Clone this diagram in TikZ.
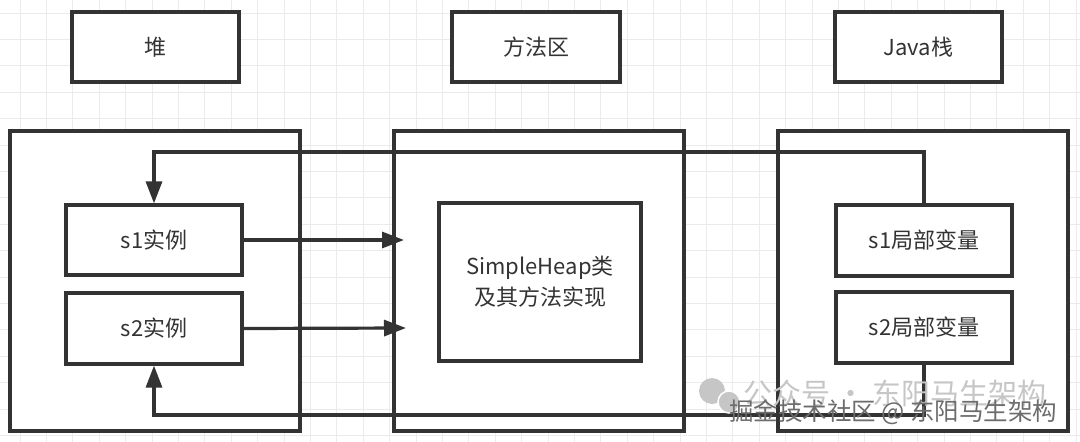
\documentclass[tikz,border=0pt]{standalone}
\usepackage{fontspec}
\setmainfont{Noto Sans CJK SC}
\usetikzlibrary{arrows.meta}
\definecolor{ink}{HTML}{333333}
\definecolor{gridc}{HTML}{EBEBEB}
\begin{document}
\begin{tikzpicture}[x=1pt,y=-1pt,
  box/.style={draw=ink,line width=3.2pt,fill=white,inner sep=0pt,
    font=\fontsize{22}{31}\selectfont,text=ink,align=center},
  conn/.style={draw=ink,line width=3.2pt},
  arr/.style={conn,-{Triangle[length=22pt,width=16pt]}}]
\fill[white] (0,0) rectangle (1080,442);
\useasboundingbox (0,0) rectangle (1080,442);
% grid
\foreach \i in {0,...,40} {\draw[gridc,line width=1pt] (20+26.4*\i,0) -- (20+26.4*\i,442);}
\foreach \j in {0,...,16} {\draw[gridc,line width=1pt] (0,13+26.4*\j) -- (1080,13+26.4*\j);}
% titles
\node[box,minimum width=167pt,minimum height=70pt] (heapT) at (155.5,47) {堆};
\node[box,minimum width=168pt,minimum height=70pt] (methT) at (536,47) {方法区};
\node[box,minimum width=167pt,minimum height=70pt] (javaT) at (918.5,47) {Java栈};
% containers
\node[box,minimum width=290pt,minimum height=300pt] (heapB) at (155,281) {};
\node[box,minimum width=290pt,minimum height=300pt] (methB) at (539,281) {};
\node[box,minimum width=290pt,minimum height=300pt] (javaB) at (923,281) {};
% inner boxes
\node[box,minimum width=176pt,minimum height=70pt] (s1) at (154,240) {s1实例};
\node[box,minimum width=176pt,minimum height=71pt] (s2) at (154,328.5) {s2实例};
\node[box,minimum width=202pt,minimum height=158pt] (cls) at (540,282) {SimpleHeap类\\及其方法实现};
\node[box,minimum width=176pt,minimum height=71pt] (v1) at (924,240.5) {s1局部变量};
\node[box,minimum width=176pt,minimum height=71pt] (v2) at (924,327.5) {s2局部变量};
% connectors
\coordinate (a1) at (404,240);
\coordinate (a2) at (406,328);
\coordinate (tp) at (0,152);
\coordinate (bt) at (0,415);
\draw[arr] (s1.east) -- (a1);
\draw[arr] (s2.east) -- (a2);
\draw[arr] (v1.north) -- (v1.north |- tp) -- (s1.north |- tp) -- (s1.north);
\draw[arr] (v2.south) -- (v2.south |- bt) -- (s2.south |- bt) -- (s2.south);
% watermarks
\fill[gray!45] (712,391) circle (13);
\fill[gray!45,draw=white,line width=1.5pt] (729,402) circle (11);
\node[text=gray!45,font=\fontsize{29}{30}\selectfont,anchor=west,inner sep=0pt] (wm1) at (743,393) {公众号 · 东阳马生架构};
\node[text=gray!85!black,font=\fontsize{24.5}{26}\selectfont,anchor=west,inner sep=0pt] (wm2) at (729,412) {掘金技术社区 @ 东阳马生架构};
\end{tikzpicture}
\end{document}
